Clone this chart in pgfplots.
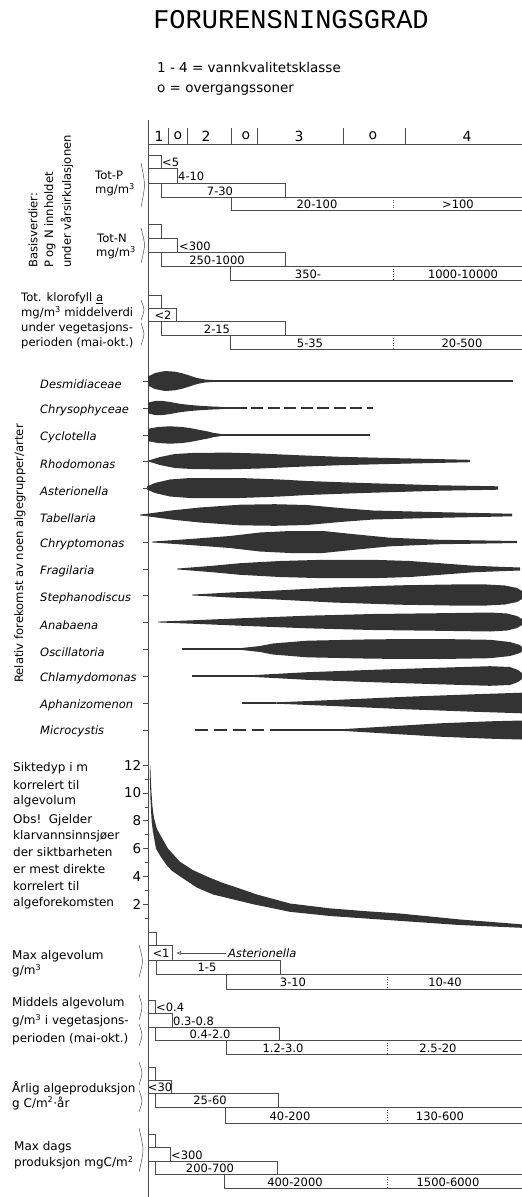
\documentclass[border=0pt]{standalone}
\usepackage{fontspec}
\setmainfont{DejaVu Sans}
\newfontfamily\titlefont{Liberation Mono}
\usepackage{pgfplots}
\pgfplotsset{compat=1.18}
\usepackage{pgfplotstable}
\usetikzlibrary{arrows.meta}

\definecolor{spind}{gray}{0.2}
\definecolor{ln}{gray}{0.3}
\newcommand\fs[1]{\fontsize{#1}{#1}\selectfont}

% spindle outlines: x (px) and signed offset d (px) from the row centre
\pgfplotstableread[row sep=\\]{x d\\
148 -4.5\\ 155 -8\\ 165 -10\\ 175 -9.3\\ 183 -7.5\\ 190 -5.3\\ 197 -3\\ 205 -1.5\\ 212 -1.0\\
212 1.0\\ 205 1.5\\ 197 3\\ 190 5.3\\ 183 7.5\\ 175 9.3\\ 165 10\\ 155 8\\ 148 4.5\\}\tDes
\pgfplotstableread[row sep=\\]{x d\\
148 -5.3\\ 155 -7\\ 162 -7.2\\ 170 -6\\ 180 -4.2\\ 190 -3\\ 200 -2.2\\ 210 -1.6\\ 222 -1.1\\
222 1.1\\ 210 1.6\\ 200 2.2\\ 190 3\\ 180 4.2\\ 170 6\\ 162 7.2\\ 155 7\\ 148 5.3\\}\tChr
\pgfplotstableread[row sep=\\]{x d\\
148 -6.2\\ 158 -8\\ 170 -8.7\\ 182 -8\\ 190 -7\\ 200 -5\\ 207 -3.7\\ 213 -2.2\\ 220 -1.2\\
220 1.2\\ 213 2.2\\ 207 3.7\\ 200 5\\ 190 7\\ 182 8\\ 170 8.7\\ 158 8\\ 148 6.2\\}\tCyc
\pgfplotstableread[row sep=\\]{x d\\
148 -0.3\\ 160 -4\\ 175 -7\\ 195 -8.2\\ 230 -8.3\\ 260 -7.5\\ 300 -5.7\\ 340 -4.2\\ 380 -3.2\\ 420 -2.3\\ 470 -1.2\\
470 1.2\\ 420 2.3\\ 380 3.2\\ 340 4.2\\ 300 5.7\\ 260 7.5\\ 230 8.3\\ 195 8.2\\ 175 7\\ 160 4\\ 148 0.3\\}\tRho
\pgfplotstableread[row sep=\\]{x d\\
147 -1.5\\ 155 -5\\ 170 -8.5\\ 190 -10\\ 240 -10\\ 280 -8.5\\ 307 -7\\ 340 -5.8\\ 373 -4.7\\ 440 -2.7\\ 498 -1.7\\
498 1.7\\ 440 2.7\\ 373 4.7\\ 340 5.8\\ 307 7\\ 280 8.5\\ 240 10\\ 190 10\\ 170 8.5\\ 155 5\\ 147 1.5\\}\tAst
\pgfplotstableread[row sep=\\]{x d\\
140 -0.4\\ 149 -1.5\\ 173 -4.7\\ 200 -7.5\\ 240 -10.3\\ 275 -10.8\\ 307 -10\\ 340 -7\\ 373 -4.5\\ 440 -2.8\\ 512 -1.3\\
512 1.3\\ 440 2.8\\ 373 4.5\\ 340 7\\ 307 10\\ 275 10.8\\ 240 10.3\\ 200 7.5\\ 173 4.7\\ 149 1.5\\ 140 0.4\\}\tTab
\pgfplotstableread[row sep=\\]{x d\\
152 -0.4\\ 190 -3\\ 230 -6\\ 260 -9.5\\ 290 -11\\ 323 -11\\ 357 -7.5\\ 390 -4.3\\ 440 -2.2\\ 480 -1.6\\ 517 -1.0\\
517 1.0\\ 480 1.6\\ 440 2.2\\ 390 4.3\\ 357 7.5\\ 323 11\\ 290 11\\ 260 9.5\\ 230 6\\ 190 3\\ 152 0.4\\}\tCry
\pgfplotstableread[row sep=\\]{x d\\
177 -0.4\\ 210 -3\\ 240 -5.8\\ 280 -8\\ 323 -9.2\\ 373 -9.2\\ 410 -8\\ 440 -5.8\\ 473 -3.3\\ 500 -2.2\\ 520 -1.5\\
520 1.5\\ 500 2.2\\ 473 3.3\\ 440 5.8\\ 410 8\\ 373 9.2\\ 323 9.2\\ 280 8\\ 240 5.8\\ 210 3\\ 177 0.4\\}\tFra
\pgfplotstableread[row sep=\\]{x d\\
192 -0.4\\ 230 -2.5\\ 267 -4\\ 333 -7.5\\ 400 -9.7\\ 450 -10.5\\ 483 -10.7\\ 505 -9.5\\ 517 -7\\ 522 -4\\
522 4\\ 517 7\\ 505 9.5\\ 483 10.7\\ 450 10.5\\ 400 9.7\\ 333 7.5\\ 267 4\\ 230 2.5\\ 192 0.4\\}\tSte
\pgfplotstableread[row sep=\\]{x d\\
158 -0.4\\ 200 -2\\ 240 -3.7\\ 307 -6.3\\ 373 -8\\ 440 -8.8\\ 490 -9.5\\ 507 -8.5\\ 517 -6\\ 522 -3\\
522 3\\ 517 6\\ 507 8.5\\ 490 9.5\\ 440 8.8\\ 373 8\\ 307 6.3\\ 240 3.7\\ 200 2\\ 158 0.4\\}\tAna
\pgfplotstableread[row sep=\\]{x d\\
240 -0.8\\ 260 -3\\ 273 -5.5\\ 307 -8.3\\ 373 -9.7\\ 440 -10\\ 490 -9.2\\ 510 -7\\ 520 -4\\ 522 -2\\
522 2\\ 520 4\\ 510 7\\ 490 9.2\\ 440 10\\ 373 9.7\\ 307 8.3\\ 273 5.5\\ 260 3\\ 240 0.8\\}\tOsc
\pgfplotstableread[row sep=\\]{x d\\
255 -1\\ 307 -3.8\\ 373 -6.2\\ 440 -8.3\\ 490 -9.8\\ 510 -9\\ 518 -6\\ 522 -3\\
522 3\\ 518 6\\ 510 9\\ 490 9.8\\ 440 8.3\\ 373 6.2\\ 307 3.8\\ 255 1\\}\tChl
\pgfplotstableread[row sep=\\]{x d\\
273 -0.6\\ 290 -1.2\\ 340 -3.3\\ 407 -6.3\\ 473 -8.7\\ 522 -10.3\\
522 10.3\\ 473 8.7\\ 407 6.3\\ 340 3.3\\ 290 1.2\\ 273 0.6\\}\tAph
\pgfplotstableread[row sep=\\]{x d\\
340 -0.7\\ 390 -3.7\\ 440 -6.7\\ 490 -8.7\\ 522 -9.5\\
522 9.5\\ 490 8.7\\ 440 6.7\\ 390 3.7\\ 340 0.7\\}\tMic

\newcommand\spindle[2]{\addplot[fill=spind, draw=none] table[x=x, y expr=#1+\thisrow{d}] {#2};}

% staircase of range boxes: y0..y4, x edges e1 e2 e3 e4
\newcommand\boxgroup[9]{%
\addplot[ln, line width=0.6pt] coordinates {(148,#1) (#6,#1) (#6,#2)};
\addplot[ln, line width=0.6pt] coordinates {(148,#2) (#7,#2) (#7,#3)};
\addplot[ln, line width=0.6pt] coordinates {(148,#3) (#8,#3) (#8,#4)};
\addplot[ln, line width=0.6pt] coordinates {(#6,#3) (#6,#4) (522,#4)};
\addplot[ln, line width=0.6pt] coordinates {(#9,#4) (#9,#5) (522,#5)};}
\newcommand\divider[3]{\addplot[ln, line width=0.6pt, dotted] coordinates {(#1,#2) (#1,#3)};}
\newcommand\mybrace[5]{\addplot[ln, line width=0.5pt, smooth] coordinates {(#1,#3) (#2,#4) (#1,#5)};}

\begin{document}
\begin{tikzpicture}
\useasboundingbox (0,0) rectangle (522pt,1197pt);
\begin{axis}[at={(0pt,0pt)}, anchor=south west, scale only axis,
  width=522pt, height=1197pt, xmin=0, xmax=522, ymin=0, ymax=1197,
  y dir=reverse, hide axis, clip=false]

% title and legend
\node at (axis cs:291,20) {\titlefont\fs{27}FORURENSNINGSGRAD};
\node[anchor=west, inner sep=0pt] at (axis cs:157,67) {\fs{13.5}1 - 4 = vannkvalitetsklasse};
\node[anchor=west, inner sep=0pt] at (axis cs:157,90) {\fs{13.5}o = overgangssoner};

% main vertical line and top scale
\addplot[ln, line width=0.8pt] coordinates {(148,120) (148,1197)};
\addplot[ln, line width=0.8pt] coordinates {(148,144) (522,144)};
\addplot[ln, line width=0.7pt] coordinates {(168,128) (168,144)};
\addplot[ln, line width=0.7pt] coordinates {(187,128) (187,144)};
\addplot[ln, line width=0.7pt] coordinates {(231,128) (231,144)};
\addplot[ln, line width=0.7pt] coordinates {(257,128) (257,144)};
\addplot[ln, line width=0.7pt] coordinates {(343,128) (343,144)};
\addplot[ln, line width=0.7pt] coordinates {(405,128) (405,144)};
\node at (axis cs:159,136) {\fs{14}1};
\node at (axis cs:178,136) {\fs{14}o};
\node at (axis cs:206,136) {\fs{14}2};
\node at (axis cs:246,136) {\fs{14}o};
\node at (axis cs:299,136) {\fs{14}3};
\node at (axis cs:373,136) {\fs{14}o};
\node at (axis cs:467,136) {\fs{14}4};

% rotated group labels
\node[rotate=90, anchor=west, inner sep=0pt] at (axis cs:33,268) {\fs{11.6}Basisverdier:};
\node[rotate=90, anchor=west, inner sep=0pt] at (axis cs:50,268) {\fs{11.6}P og N innholdet};
\node[rotate=90, anchor=west, inner sep=0pt] at (axis cs:67,268) {\fs{11.6}under vårsirkulasjonen};
\node[rotate=90, anchor=west, inner sep=0pt] at (axis cs:20,683) {\fs{11.6}Relativ forekomst av noen algegrupper/arter};

% Tot-P
\node[anchor=west, inner sep=0pt] at (axis cs:95,175) {\fs{11.6}Tot-P};
\node[anchor=west, inner sep=0pt] at (axis cs:95,190) {\fs{11.6}mg/m\textsuperscript{3}};
\mybrace{141}{144.5}{163}{185}{207}
\boxgroup{155}{168}{183}{197}{210}{161}{177}{285}{231}
\divider{393}{197}{210}
\node[anchor=west, inner sep=1pt] at (axis cs:161,162) {\fs{11.5}<5};
\node[anchor=west, inner sep=1pt] at (axis cs:177,176) {\fs{11.5}4-10};
\node at (axis cs:220,191) {\fs{11.5}7-30};
\node at (axis cs:317,204.5) {\fs{11.5}20-100};
\node at (axis cs:458,204.5) {\fs{11.5}>100};

% Tot-N
\node[anchor=west, inner sep=0pt] at (axis cs:97,238) {\fs{11.6}Tot-N};
\node[anchor=west, inner sep=0pt] at (axis cs:96,253) {\fs{11.6}mg/m\textsuperscript{3}};
\mybrace{141}{144.5}{228}{245}{263}
\boxgroup{224}{238}{252}{266}{280}{161}{177}{285}{230}
\divider{393}{266}{280}
\node[anchor=west, inner sep=1pt] at (axis cs:178,246) {\fs{11.5}<300};
\node at (axis cs:217,260) {\fs{11.5}250-1000};
\node at (axis cs:308,274) {\fs{11.5}350-};
\node at (axis cs:463,274) {\fs{11.5}1000-10000};

% klorofyll
\node[anchor=west, inner sep=0pt] at (axis cs:21,298) {\fs{11.6}Tot. klorofyll \underline{a}};
\node[anchor=west, inner sep=0pt] at (axis cs:21,313) {\fs{11.6}mg/m\textsuperscript{3} middelverdi};
\node[anchor=west, inner sep=0pt] at (axis cs:21,328) {\fs{11.6}under vegetasjons-};
\node[anchor=west, inner sep=0pt] at (axis cs:21,343) {\fs{11.6}perioden (mai-okt.)};
\mybrace{141}{144}{300}{310}{320}
\mybrace{141}{144}{323}{334}{345}
\boxgroup{295}{308}{321}{335}{349}{161}{176}{285}{230}
\divider{393}{335}{349}
\node at (axis cs:163,315.5) {\fs{11.5}<2};
\node at (axis cs:217,329) {\fs{11.5}2-15};
\node at (axis cs:310,343) {\fs{11.5}5-35};
\node at (axis cs:462,343) {\fs{11.5}20-500};

% spindles
\spindle{381}{\tDes}
\addplot[spind, line width=1.3pt] coordinates {(208,381) (513,381)};
\spindle{408}{\tChr}
\addplot[spind, line width=1.2pt] coordinates {(218,408) (247,408)};
\addplot[spind, line width=1.2pt, dash pattern=on 12pt off 4.5pt] coordinates {(251,408) (373,408)};
\spindle{435}{\tCyc}
\addplot[spind, line width=1.2pt] coordinates {(216,435) (370,435)};
\spindle{461}{\tRho}
\spindle{488}{\tAst}
\spindle{515}{\tTab}
\spindle{542}{\tCry}
\spindle{569}{\tFra}
\spindle{595}{\tSte}
\spindle{622}{\tAna}
\addplot[spind, line width=1.2pt] coordinates {(182,649) (242,649)};
\spindle{649}{\tOsc}
\addplot[spind, line width=1.2pt] coordinates {(192,676) (257,676)};
\spindle{676}{\tChl}
\addplot[spind, line width=1.2pt] coordinates {(242,703) (276,703)};
\spindle{703}{\tAph}
\addplot[spind, line width=1.1pt, dash pattern=on 13pt off 6pt] coordinates {(195,730) (264,730)};
\addplot[spind, line width=1.2pt] coordinates {(270,730) (342,730)};
\spindle{730}{\tMic}

% small ticks at each row
\addplot[ln, line width=0.6pt] coordinates {(143,381) (148,381)};
\addplot[ln, line width=0.6pt] coordinates {(143,408) (148,408)};
\addplot[ln, line width=0.6pt] coordinates {(143,435) (148,435)};
\addplot[ln, line width=0.6pt] coordinates {(143,461) (148,461)};
\addplot[ln, line width=0.6pt] coordinates {(143,488) (148,488)};
\addplot[ln, line width=0.6pt] coordinates {(143,515) (148,515)};
\addplot[ln, line width=0.6pt] coordinates {(143,542) (148,542)};
\addplot[ln, line width=0.6pt] coordinates {(143,569) (148,569)};
\addplot[ln, line width=0.6pt] coordinates {(143,595) (148,595)};
\addplot[ln, line width=0.6pt] coordinates {(143,622) (148,622)};
\addplot[ln, line width=0.6pt] coordinates {(143,649) (148,649)};
\addplot[ln, line width=0.6pt] coordinates {(143,676) (148,676)};
\addplot[ln, line width=0.6pt] coordinates {(143,703) (148,703)};
\addplot[ln, line width=0.6pt] coordinates {(143,730) (148,730)};

\node[anchor=west, inner sep=0pt] at (axis cs:40,384) {\fs{11.5}\itshape Desmidiaceae};
\node[anchor=west, inner sep=0pt] at (axis cs:40,410) {\fs{11.5}\itshape Chrysophyceae};
\node[anchor=west, inner sep=0pt] at (axis cs:40,437) {\fs{11.5}\itshape Cyclotella};
\node[anchor=west, inner sep=0pt] at (axis cs:40,464) {\fs{11.5}\itshape Rhodomonas};
\node[anchor=west, inner sep=0pt] at (axis cs:40,491) {\fs{11.5}\itshape Asterionella};
\node[anchor=west, inner sep=0pt] at (axis cs:40,518) {\fs{11.5}\itshape Tabellaria};
\node[anchor=west, inner sep=0pt] at (axis cs:40,544) {\fs{11.5}\itshape Chryptomonas};
\node[anchor=west, inner sep=0pt] at (axis cs:40,571) {\fs{11.5}\itshape Fragilaria};
\node[anchor=west, inner sep=0pt] at (axis cs:40,598) {\fs{11.5}\itshape Stephanodiscus};
\node[anchor=west, inner sep=0pt] at (axis cs:40,625) {\fs{11.5}\itshape Anabaena};
\node[anchor=west, inner sep=0pt] at (axis cs:40,652) {\fs{11.5}\itshape Oscillatoria};
\node[anchor=west, inner sep=0pt] at (axis cs:40,678) {\fs{11.5}\itshape Chlamydomonas};
\node[anchor=west, inner sep=0pt] at (axis cs:40,705) {\fs{11.5}\itshape Aphanizomenon};
\node[anchor=west, inner sep=0pt] at (axis cs:40,731) {\fs{11.5}\itshape Microcystis};

% Siktedyp text
\node[anchor=west, inner sep=0pt] at (axis cs:13,768) {\fs{12}Siktedyp i m};
\node[anchor=west, inner sep=0pt] at (axis cs:13,785) {\fs{12}korrelert til};
\node[anchor=west, inner sep=0pt] at (axis cs:13,801) {\fs{12}algevolum};
\node[anchor=west, inner sep=0pt] at (axis cs:13,820) {\fs{12}Obs!\ \ Gjelder};
\node[anchor=west, inner sep=0pt] at (axis cs:13,836) {\fs{12}klarvannsinnsjøer};
\node[anchor=west, inner sep=0pt] at (axis cs:13,852) {\fs{12}der siktbarheten};
\node[anchor=west, inner sep=0pt] at (axis cs:13,869) {\fs{12}er mest direkte};
\node[anchor=west, inner sep=0pt] at (axis cs:13,886) {\fs{12}korrelert til};
\node[anchor=west, inner sep=0pt] at (axis cs:13,903) {\fs{12}algeforekomsten};

% Max algevolum
\node[anchor=west, inner sep=0pt] at (axis cs:12,956) {\fs{12}Max algevolum};
\node[anchor=west, inner sep=0pt] at (axis cs:12,971) {\fs{12}g/m\textsuperscript{3}};
\mybrace{139}{142.5}{945}{961}{977}
\boxgroup{932}{945}{960}{974}{989}{156}{172}{280}{226}
\divider{387}{974}{989}
\node at (axis cs:161,953.5) {\fs{11.5}<1};
\addplot[ln, line width=0.6pt, -{Latex[open,length=5pt,width=4pt]}] coordinates {(226,953) (176,953)};
\node[anchor=west, inner sep=1pt] at (axis cs:227,953) {\fs{11.5}\itshape Asterionella};
\node at (axis cs:207,967.5) {\fs{11.5}1-5};
\node at (axis cs:293,982) {\fs{11.5}3-10};
\node at (axis cs:445,982) {\fs{11.5}10-40};

% Middels algevolum
\node[anchor=west, inner sep=0pt] at (axis cs:12,1003) {\fs{12}Middels algevolum};
\node[anchor=west, inner sep=0pt] at (axis cs:12,1021) {\fs{12}g/m\textsuperscript{3} i vegetasjons-};
\node[anchor=west, inner sep=0pt] at (axis cs:12,1039) {\fs{12}perioden (mai-okt.)};
\mybrace{139}{142}{995}{1007}{1020}
\mybrace{139}{142}{1024}{1035}{1046}
\boxgroup{1000}{1013}{1027}{1040}{1054}{155}{172}{279}{226}
\divider{387}{1040}{1054}
\node[anchor=west, inner sep=1pt] at (axis cs:155,1007) {\fs{11.5}<0.4};
\node[anchor=west, inner sep=1pt] at (axis cs:172,1021) {\fs{11.5}0.3-0.8};
\node at (axis cs:210,1034) {\fs{11.5}0.4-2.0};
\node at (axis cs:283,1048) {\fs{11.5}1.2-3.0};
\node at (axis cs:438,1048) {\fs{11.5}2.5-20};

% Aarlig algeproduksjon
\node[anchor=west, inner sep=0pt] at (axis cs:12,1088) {\fs{12}Årlig algeproduksjon};
\node[anchor=west, inner sep=0pt] at (axis cs:12,1103) {\fs{12}g C/m\textsuperscript{2}·år};
\mybrace{139}{142}{1062}{1073}{1085}
\mybrace{139}{142}{1090}{1101}{1112}
\boxgroup{1067}{1080}{1093}{1107}{1123}{155}{171}{278}{225}
\divider{387}{1107}{1123}
\node at (axis cs:160,1087) {\fs{11.5}<30};
\node at (axis cs:210,1100.5) {\fs{11.5}25-60};
\node at (axis cs:290,1116) {\fs{11.5}40-200};
\node at (axis cs:440,1116) {\fs{11.5}130-600};

% Max dags produksjon
\node[anchor=west, inner sep=0pt] at (axis cs:14,1147) {\fs{12}Max dags};
\node[anchor=west, inner sep=0pt] at (axis cs:14,1163) {\fs{12}produksjon mgC/m\textsuperscript{2}};
\mybrace{139}{143}{1128}{1150}{1172}
\boxgroup{1134}{1147}{1161}{1174}{1188}{155}{170}{277}{224}
\divider{387}{1174}{1188}
\node[anchor=west, inner sep=1pt] at (axis cs:170,1155) {\fs{11.5}<300};
\node at (axis cs:210,1168) {\fs{11.5}200-700};
\node at (axis cs:295,1182) {\fs{11.5}400-2000};
\node at (axis cs:448,1182) {\fs{11.5}1500-6000};
\end{axis}

% Siktedyp axis: value v at pixel 932 - 13.9 v
\begin{axis}[at={(148pt,265pt)}, anchor=south west, scale only axis,
  width=374pt, height=175.14pt, xmin=148, xmax=522, ymin=0, ymax=12.6,
  hide x axis, axis y line*=left, y axis line style={draw=none},
  ytick={2,4,6,8,10,12}, minor ytick={1,3,5,7,9,11},
  tick align=outside, major tick length=5pt, minor tick length=3pt,
  every tick/.style={ln, line width=0.6pt},
  yticklabel style={font=\fs{13.5}, inner sep=1.5pt},
  /pgf/number format/assume math mode=true, clip=false]
\addplot[fill=spind, draw=none] coordinates {
(150.3,12.0) (150.8,11.0) (151.5,10.0) (152.5,9.0) (154,8.2) (157,7.4)
(161.7,6.8) (168,6.0) (180,5.05) (193,4.45) (206.7,4.0) (222,3.55)
(236.7,3.2) (256.7,2.7) (290,2.05) (330,1.7) (365,1.5) (400,1.33)
(460,0.9) (522,0.55)
(522,0.3) (460,0.5) (400,0.8) (360,1.0) (330,1.15) (317,1.25)
(290,1.45) (253,2.0) (230,2.4) (213,2.7) (196.7,3.2) (180,4.0)
(172,4.4) (166.7,4.8) (160,5.5) (156,6.0) (153,7.2) (151.7,7.9)
(150.5,9.5) (149.8,11.5)};
\end{axis}
\end{tikzpicture}
\end{document}
